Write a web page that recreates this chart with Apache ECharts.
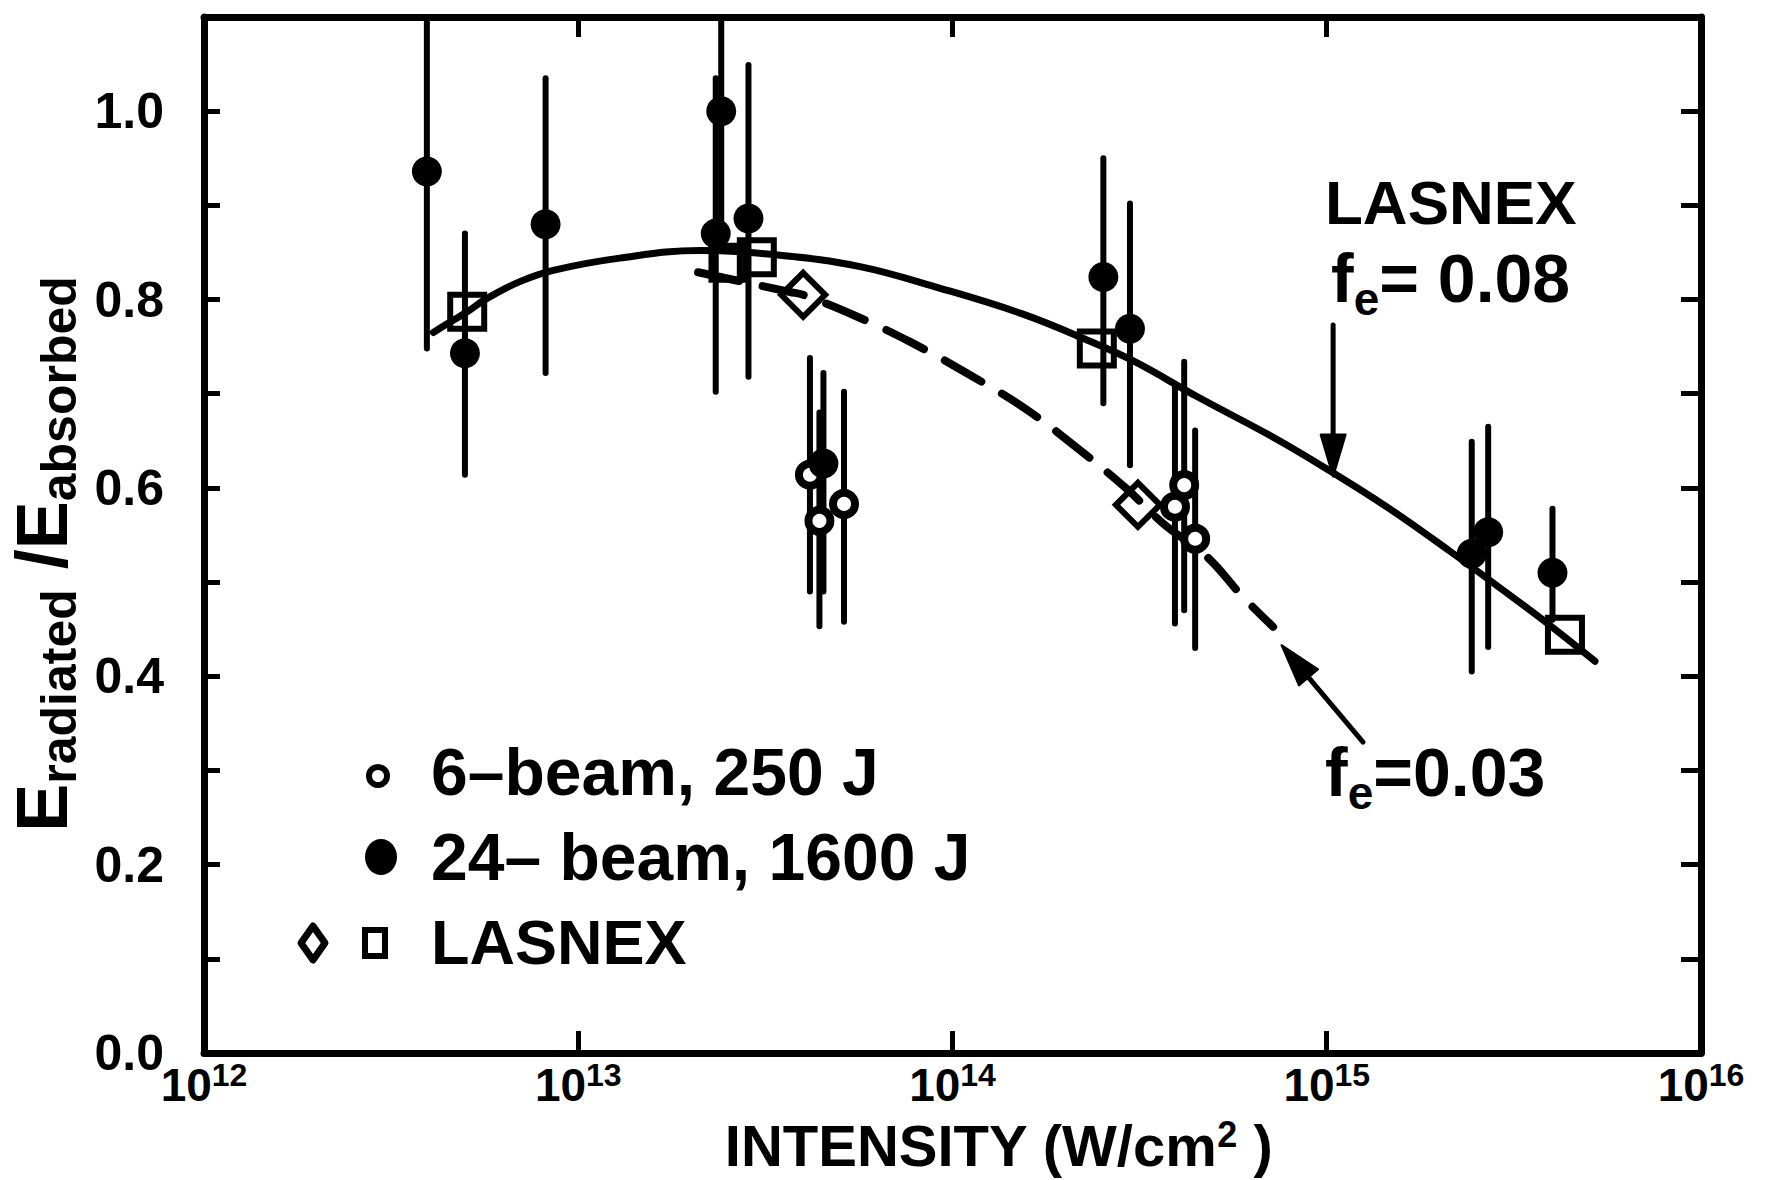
<!DOCTYPE html>
<html>
<head>
<meta charset="utf-8">
<title>Radiated / absorbed energy vs. intensity</title>
<script src="https://cdn.jsdelivr.net/npm/echarts@6/dist/echarts.min.js"></script>
<style>
  html, body { margin: 0; padding: 0; background: #fff; }
  #chart { width: 1768px; height: 1180px; }
</style>
</head>
<body>
<div id="chart"></div>
<script>
const FONT = '"Liberation Sans", Arial, Helvetica, sans-serif';

// Axis ranges
const xRange = [1e12, 1e16];
const yRange = [0, 1.1];

// 6-beam, 250 J shots: [intensity (W/cm²), E_rad/E_abs, error low, error high]
const sixBeam = [
  [4.16e13, 0.614, 0.490, 0.738],
  [4.41e13, 0.565, 0.453, 0.680],
  [5.13e13, 0.583, 0.458, 0.702],
  [3.93e14, 0.580, 0.456, 0.707],
  [4.16e14, 0.603, 0.470, 0.734],
  [4.45e14, 0.546, 0.430, 0.661]
];

// 24-beam, 1600 J shots
const twentyFourBeam = [
  [3.94e12, 0.936, 0.748, 1.20],
  [4.98e12, 0.743, 0.614, 0.870],
  [8.18e12, 0.880, 0.722, 1.035],
  [2.41e13, 1.000, 0.860, 1.20],
  [2.33e13, 0.870, 0.702, 1.035],
  [2.85e13, 0.886, 0.718, 1.049],
  [4.52e13, 0.626, 0.490, 0.722],
  [2.53e14, 0.824, 0.690, 0.950],
  [2.98e14, 0.769, 0.624, 0.902],
  [2.44e15, 0.530, 0.405, 0.649],
  [2.70e15, 0.553, 0.431, 0.665],
  [4.01e15, 0.510, 0.460, 0.578]
];

// LASNEX runs, f_e = 0.08 (squares) and f_e = 0.03 (diamonds)
const lasnexSquares = [
  [5.05e12, 0.787], [2.52e13, 0.839], [3.00e13, 0.845], [2.43e14, 0.748], [4.33e15, 0.444]
];
const lasnexDiamonds = [
  [3.99e13, 0.805], [3.13e14, 0.582]
];

// LASNEX curve, f_e = 0.08 (solid)
const curveFe08 = [
  [4.10e12, 0.765], [4.50e12, 0.775], [5.05e12, 0.787], [5.69e12, 0.801],
  [6.98e12, 0.819], [8.57e12, 0.831], [1.29e13, 0.844], [2.11e13, 0.852],
  [3.46e13, 0.847], [5.66e13, 0.835], [9.08e13, 0.813], [1.53e14, 0.785],
  [2.32e14, 0.756], [3.07e14, 0.734], [4.50e14, 0.697], [7.33e14, 0.652],
  [1.04e15, 0.616], [1.47e15, 0.578], [2.13e15, 0.533], [2.90e15, 0.494],
  [3.95e15, 0.454], [5.21e15, 0.416]
];

// LASNEX curve, f_e = 0.03 (dashed)
const curveFe03 = [
  [2.09e13, 0.829], [3.68e13, 0.808], [3.99e13, 0.805], [5.55e13, 0.782],
  [7.71e13, 0.755], [1.09e14, 0.722], [1.58e14, 0.683], [2.19e14, 0.640],
  [2.92e14, 0.599], [3.66e14, 0.562], [4.78e14, 0.527], [5.98e14, 0.484],
  [7.19e14, 0.4525]
];

// Pointer arrows to the two curves: [tail x, tail y, tip x, tip y]
const pointerArrows = [
  [1.04e15, 0.773, 1.04e15, 0.612],
  [1.25e15, 0.330, 7.57e14, 0.433]
];

// Legend rows
const legendLabels = ['6\u2013beam, 250 J', '24\u2013 beam, 1600 J', 'LASNEX'];

const chart = echarts.init(document.getElementById('chart'), null, { renderer: 'svg' });

function renderErrorBar(params, api) {
  const x = api.value(0);
  const lo = Math.max(api.value(2), yRange[0]);
  const hi = Math.min(api.value(3), yRange[1]);
  const p1 = api.coord([x, lo]);
  const p2 = api.coord([x, hi]);
  return {
    type: 'line',
    shape: { x1: p1[0], y1: p1[1], x2: p2[0], y2: p2[1] },
    style: { stroke: '#000', lineWidth: 6, lineCap: 'round' }
  };
}

function renderArrow(params, api) {
  const tail = api.coord([api.value(0), api.value(1)]);
  const tip = api.coord([api.value(2), api.value(3)]);
  const dx = tip[0] - tail[0], dy = tip[1] - tail[1];
  const len = Math.hypot(dx, dy);
  const ux = dx / len, uy = dy / len;
  const headLen = 42, headHalf = 12.5;
  const bx = tip[0] - ux * headLen, by = tip[1] - uy * headLen;
  return {
    type: 'group',
    children: [
      {
        type: 'line',
        shape: { x1: tail[0], y1: tail[1], x2: bx + ux * 4, y2: by + uy * 4 },
        style: { stroke: '#000', lineWidth: 5, lineCap: 'round' }
      },
      {
        type: 'polygon',
        shape: { points: [
          [tip[0], tip[1]],
          [bx - uy * headHalf, by + ux * headHalf],
          [bx + uy * headHalf, by - ux * headHalf]
        ] },
        style: { fill: '#000', stroke: '#000', lineWidth: 2, lineJoin: 'round' }
      }
    ]
  };
}

const axisLineStyle = { color: '#000', width: 7 };
const tickStyle = { color: '#000', width: 5 };

const xBase = {
  type: 'log',
  logBase: 10,
  min: xRange[0],
  max: xRange[1],
  splitLine: { show: false },
  minorTick: { show: false },
  axisLine: { show: true, onZero: false, lineStyle: axisLineStyle }
};
const yBase = {
  type: 'value',
  min: yRange[0],
  max: yRange[1],
  interval: 0.1,
  splitLine: { show: false },
  axisLine: { show: true, onZero: false, lineStyle: axisLineStyle }
};

const textRich = (size, lh, extra) => Object.assign(
  { fontSize: size, lineHeight: lh, fontWeight: 'bold', fontFamily: FONT, color: '#000' }, extra || {});

const option = {
  backgroundColor: '#fff',
  animation: false,
  grid: {
    left: 204, right: 67, top: 17, bottom: 127,
    show: false, containLabel: false, outerBoundsMode: 'none'
  },
  xAxis: [
    Object.assign({}, xBase, {
      position: 'bottom',
      axisTick: { show: true, inside: true, length: 22, lineStyle: tickStyle },
      axisLabel: {
        margin: 6,
        formatter: v => '{b|10}{s|' + Math.round(Math.log10(v)) + '}',
        rich: {
          b: textRich(46, 52),
          s: textRich(32, 32, { verticalAlign: 'top' })
        }
      },
      name: '{a|INTENSITY (W/cm}{s|2}{a| )}',
      nameLocation: 'middle',
      nameMoveOverlap: false,
      nameGap: 63,
      nameTextStyle: {
        padding: [0, 0, 0, 92],
        rich: {
          a: textRich(58, 58),
          s: textRich(36, 36, { verticalAlign: 'top' })
        }
      }
    }),
    Object.assign({}, xBase, {
      position: 'top',
      axisTick: { show: true, inside: true, length: 20, lineStyle: tickStyle },
      axisLabel: { show: false }
    })
  ],
  yAxis: [
    Object.assign({}, yBase, {
      position: 'left',
      axisTick: { show: true, inside: true, length: 16, lineStyle: tickStyle },
      axisLabel: {
        margin: 40,
        fontSize: 50,
        fontWeight: 'bold',
        fontFamily: FONT,
        color: '#000',
        formatter: v => (Math.round(v * 10) % 2 === 0 ? v.toFixed(1) : '')
      },
      name: '{E|E}{s|radiated}{E| /E}{s|absorbed}',
      nameLocation: 'middle',
      nameRotate: 90,
      nameGap: 120,
      nameTextStyle: {
        padding: [0, 38, 0, 0],
        rich: {
          E: textRich(72, 84),
          s: textRich(50, 50, { verticalAlign: 'bottom' })
        }
      }
    }),
    Object.assign({}, yBase, {
      position: 'right',
      axisTick: { show: true, inside: true, length: 20, lineStyle: tickStyle },
      axisLabel: { show: false }
    })
  ],
  series: [
    {
      name: 'error bars 24-beam',
      type: 'custom',
      renderItem: renderErrorBar,
      encode: { x: 0, y: [1, 2, 3] },
      data: twentyFourBeam,
      silent: true,
      z: 2
    },
    {
      name: 'error bars 6-beam',
      type: 'custom',
      renderItem: renderErrorBar,
      encode: { x: 0, y: [1, 2, 3] },
      data: sixBeam,
      silent: true,
      z: 2
    },
    {
      name: 'LASNEX f_e=0.08',
      type: 'line',
      data: curveFe08,
      smooth: 0.4,
      symbol: 'none',
      lineStyle: { color: '#000', width: 7, cap: 'round', join: 'round', opacity: 1 },
      silent: true,
      z: 3
    },
    {
      name: 'LASNEX f_e=0.03',
      type: 'line',
      data: curveFe03,
      smooth: 0.4,
      symbol: 'none',
      lineStyle: { color: '#000', width: 8, type: [42, 24], cap: 'round', join: 'round', opacity: 1 },
      silent: true,
      z: 3
    },
    {
      name: 'pointers',
      type: 'custom',
      renderItem: renderArrow,
      encode: { x: [0, 2], y: [1, 3] },
      data: pointerArrows,
      silent: true,
      z: 3
    },
    {
      name: 'LASNEX squares',
      type: 'scatter',
      data: lasnexSquares,
      symbol: 'rect',
      symbolSize: 34,
      itemStyle: { color: 'rgba(255,255,255,0)', borderColor: '#000', borderWidth: 6, opacity: 1 },
      silent: true,
      z: 4
    },
    {
      name: 'LASNEX diamonds',
      type: 'scatter',
      data: lasnexDiamonds,
      symbol: 'diamond',
      symbolSize: 44,
      itemStyle: { color: 'rgba(255,255,255,0)', borderColor: '#000', borderWidth: 6, opacity: 1 },
      silent: true,
      z: 4
    },
    {
      name: legendLabels[0],
      type: 'scatter',
      data: sixBeam.map(d => [d[0], d[1]]),
      symbol: 'circle',
      symbolSize: 22,
      itemStyle: { color: '#fff', borderColor: '#000', borderWidth: 8, opacity: 1 },
      silent: true,
      z: 5
    },
    {
      name: legendLabels[1],
      type: 'scatter',
      data: twentyFourBeam.map(d => [d[0], d[1]]),
      symbol: 'circle',
      symbolSize: 30,
      itemStyle: { color: '#000', opacity: 1 },
      silent: true,
      z: 5
    }
  ],
  graphic: [
    // legend keys
    { type: 'circle', shape: { cx: 378, cy: 776, r: 9 }, style: { fill: '#fff', stroke: '#000', lineWidth: 6 } },
    { type: 'ellipse', shape: { cx: 381, cy: 857, rx: 16, ry: 18 }, style: { fill: '#000' } },
    { type: 'polygon', shape: { points: [[313, 926], [325, 943], [313, 960], [301, 943]] }, style: { fill: 'none', stroke: '#000', lineWidth: 7, lineJoin: 'round' } },
    { type: 'rect', shape: { x: 365, y: 930, width: 20, height: 26 }, style: { fill: 'none', stroke: '#000', lineWidth: 6 } },
    // legend labels
    { type: 'text', x: 431, y: 772, style: { text: legendLabels[0], fill: '#000', font: 'bold 66px ' + FONT, verticalAlign: 'middle' } },
    { type: 'text', x: 431, y: 857, style: { text: legendLabels[1], fill: '#000', font: 'bold 66px ' + FONT, verticalAlign: 'middle' } },
    { type: 'text', x: 431, y: 942, style: { text: legendLabels[2], fill: '#000', font: 'bold 63px ' + FONT, verticalAlign: 'middle' } },
    // curve annotations
    { type: 'text', x: 1325, y: 202, style: { text: 'LASNEX', fill: '#000', font: 'bold 62px ' + FONT, verticalAlign: 'middle' } },
    {
      type: 'text', x: 1331, y: 278,
      style: {
        text: '{m|f}{e|e}{m|= 0.08}', fill: '#000', verticalAlign: 'middle',
        rich: {
          m: textRich(68, 88, { fill: '#000' }),
          e: textRich(46, 46, { fill: '#000', verticalAlign: 'bottom' })
        }
      }
    },
    {
      type: 'text', x: 1325, y: 772,
      style: {
        text: '{m|f}{e|e}{m|=0.03}', fill: '#000', verticalAlign: 'middle',
        rich: {
          m: textRich(68, 88, { fill: '#000' }),
          e: textRich(46, 46, { fill: '#000', verticalAlign: 'bottom' })
        }
      }
    }
  ]
};

chart.setOption(option);
</script>
</body>
</html>
